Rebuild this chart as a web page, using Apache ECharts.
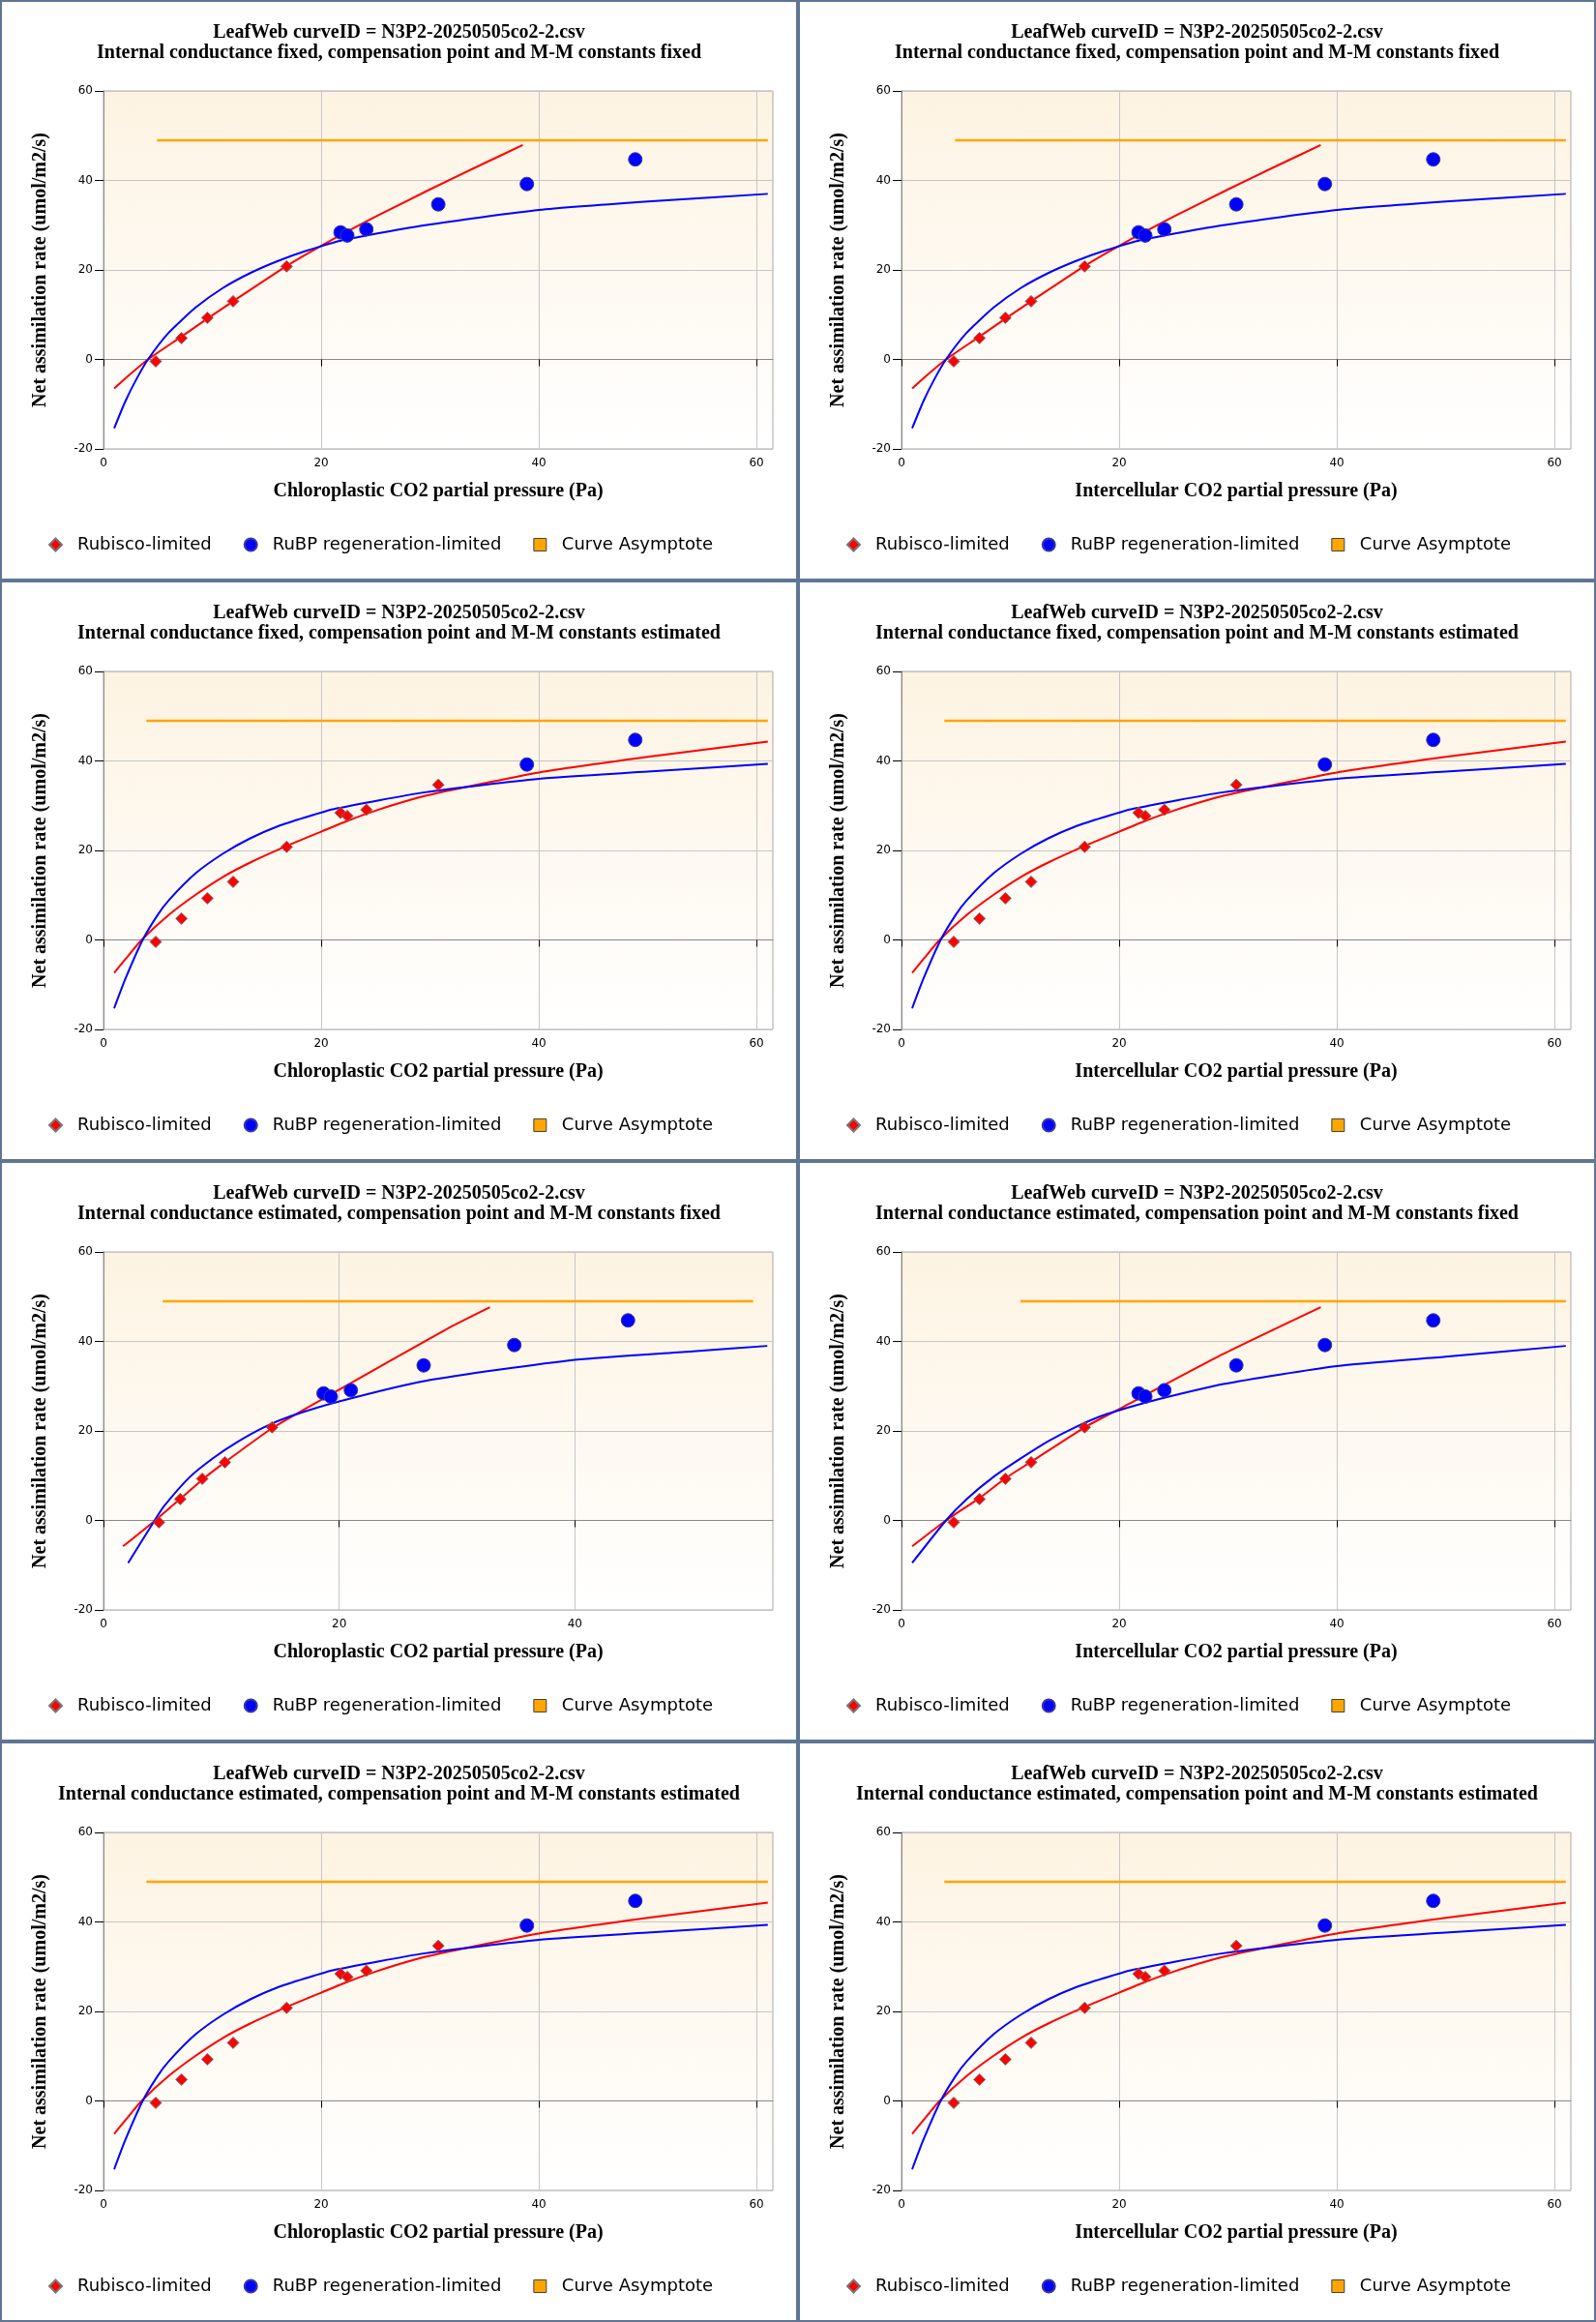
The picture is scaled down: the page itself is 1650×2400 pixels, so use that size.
<!DOCTYPE html>
<html>
<head>
<meta charset="utf-8">
<title>LeafWeb A/Ci fits</title>
<script src="https://cdn.jsdelivr.net/npm/echarts@6/dist/echarts.min.js"></script>
<style>
  html, body { margin: 0; padding: 0; background: #fff; }
  #page { position: relative; width: 1650px; height: 2400px; }
  .panel { position: absolute; width: 825px; height: 600px; }
  .panel .chart { position: absolute; left: 0; top: 0; width: 825px; height: 600px; }
  .panel .frame { position: absolute; left: 0; top: 0; right: 0; bottom: 0;
    border: 2px solid #5f7594; pointer-events: none; }
</style>
</head>
<body>
<div id="page"></div>
<script>
  // ---- data ----
  const curveId = 'LeafWeb curveID = N3P2-20250505co2-2.csv'
  const subtitles = [
    'Internal conductance fixed, compensation point and M-M constants fixed',
    'Internal conductance fixed, compensation point and M-M constants estimated',
    'Internal conductance estimated, compensation point and M-M constants fixed',
    'Internal conductance estimated, compensation point and M-M constants estimated'
  ]
  const xNames = ['Chloroplastic CO2 partial pressure (Pa)', 'Intercellular CO2 partial pressure (Pa)']
  const yName = 'Net assimilation rate (umol/m2/s)'
  const legendNames = ['Rubisco-limited', 'RuBP regeneration-limited', 'Curve Asymptote']
  const xTicks = [0, 20, 40, 60]

  // observed points
  const aObs = [-0.43, 4.77, 9.31, 13.0, 20.8, 28.4, 27.7, 29.1, 34.66, 39.2, 44.7]
  const ciObs = [4.8, 7.17, 9.54, 11.91, 16.83, 21.78, 22.4, 24.15, 30.76, 38.9, 48.86]
  const ccObsGmEst = [4.70, 6.51, 8.38, 10.30, 14.31, 18.68, 19.29, 20.99, 27.17, 34.86, 44.51]

  // fitted curves [x, A]
  const rubiscoFitA = [[0.98, -6.5], [2.5, -3.2], [4.09, 0], [7.17, 5.1], [9.54, 9.1], [11.91, 13.0],
    [16.83, 20.9], [20, 25.4], [25, 31.9], [30, 38.0], [34, 42.7], [38.52, 47.9]]
  const rubpFitA = [[0.98, -15.4], [2.0, -9.4], [3.05, -4.3], [4.09, 0], [5.93, 5.8], [8.47, 11.6],
    [10.99, 16.0], [13.48, 19.3], [16.03, 22.0], [18.55, 24.2], [22.07, 26.7], [29.57, 30.0],
    [40, 33.4], [50, 35.3], [61.04, 37.0]]

  const rubiscoFitB = [[0.98, -7.4], [2.01, -4.3], [3.5, 0], [6.01, 5.6], [8.47, 10.1], [10.99, 14.1],
    [13.48, 17.3], [16.83, 21.0], [20, 24.2], [22.4, 26.6], [25, 28.9], [29.57, 32.2], [40, 37.4],
    [50, 40.9], [61.04, 44.3]]
  const rubpFitB = [[0.98, -15.3], [2.01, -8.7], [3.6, 0], [4.98, 5.6], [6.01, 8.9], [8.47, 14.9],
    [10.99, 19.3], [13.48, 22.7], [16.03, 25.4], [18.55, 27.4], [21.07, 29.2], [29.57, 33.0],
    [40, 36.0], [50, 37.6], [61.04, 39.35]]

  const rubiscoFitEFc = [[1.65, -5.8], [4.29, -0.2], [6.51, 4.8], [8.38, 9.1], [10.3, 13.0],
    [14.31, 20.6], [20, 29.2], [29.07, 42.7], [32.79, 47.65]]
  const rubpFitEFc = [[2.09, -9.5], [4.29, -0.2], [5.16, 3.25], [7.28, 9.6], [9.29, 13.9], [11.4, 17.6],
    [13.68, 20.9], [15.88, 23.3], [20, 26.6], [27.33, 31.2], [40, 35.9], [50, 37.8], [56.33, 39.0]]

  const rubiscoFitEFi = [[0.98, -5.8], [4.09, 0], [7.17, 5.0], [9.54, 9.4], [11.91, 13.1], [16.83, 20.8],
    [20, 24.9], [29.57, 37.2], [38.52, 47.65]]
  const rubpFitEFi = [[0.98, -9.5], [4.09, 0], [6.01, 4.8], [8.47, 9.75], [10.99, 13.9], [13.48, 17.7],
    [16.03, 20.9], [18.55, 23.5], [21.07, 25.4], [23.6, 27.1], [29.57, 30.5], [40, 34.5],
    [50, 36.6], [61.04, 39.0]]

  const asymptoteA = 48.95
  const asymRangeA = [4.92, 61.04]
  const asymRangeB = [3.94, 61.04]
  const asymRangeEFc = [5.03, 55.13]
  const asymRangeEFi = [10.93, 61.04]

  // panel table: row-major, left column chloroplastic, right column intercellular
  const panels = [
    { sub: 0, xName: 0, xs: ciObs, nRub: 5, xMax: 61.5, rub: rubiscoFitA, rg: rubpFitA, asym: asymRangeA },
    { sub: 0, xName: 1, xs: ciObs, nRub: 5, xMax: 61.5, rub: rubiscoFitA, rg: rubpFitA, asym: asymRangeA },
    { sub: 1, xName: 0, xs: ciObs, nRub: 9, xMax: 61.5, rub: rubiscoFitB, rg: rubpFitB, asym: asymRangeB },
    { sub: 1, xName: 1, xs: ciObs, nRub: 9, xMax: 61.5, rub: rubiscoFitB, rg: rubpFitB, asym: asymRangeB },
    { sub: 2, xName: 0, xs: ccObsGmEst, nRub: 5, xMax: 56.8, rub: rubiscoFitEFc, rg: rubpFitEFc, asym: asymRangeEFc },
    { sub: 2, xName: 1, xs: ciObs, nRub: 5, xMax: 61.5, rub: rubiscoFitEFi, rg: rubpFitEFi, asym: asymRangeEFi },
    { sub: 3, xName: 0, xs: ciObs, nRub: 9, xMax: 61.5, rub: rubiscoFitB, rg: rubpFitB, asym: asymRangeB },
    { sub: 3, xName: 1, xs: ciObs, nRub: 9, xMax: 61.5, rub: rubiscoFitB, rg: rubpFitB, asym: asymRangeB }
  ]

  const serif = 'Liberation Serif, Times New Roman, serif'
  const sans = 'DejaVu Sans, Verdana, sans-serif'

  this.buildOption = (p) => {
    let pts = p.xs.map((x, i) => [x, aObs[i]])
    let titleFont = { fontFamily: serif, fontWeight: 'bold', fontSize: 20, color: '#000' }
    return {
      animation: false,
      title: {
        text: curveId,
        subtext: subtitles[p.sub],
        left: 'center',
        top: 19,
        itemGap: 1,
        textStyle: titleFont,
        subtextStyle: titleFont
      },
      legend: {
        top: 549,
        left: 45,
        itemGap: 33,
        itemWidth: 13,
        itemHeight: 13,
        selectedMode: false,
        textStyle: { fontFamily: sans, fontSize: 18, color: '#000', padding: [0, 0, 0, 11] },
        data: [
          { name: legendNames[0], icon: 'diamond' },
          { name: legendNames[1], icon: 'circle' },
          { name: legendNames[2], icon: 'rect', itemStyle: { color: '#ffa500', borderColor: '#444', borderWidth: 1 } }
        ]
      },
      grid: {
        left: 107, right: 26, top: 94, bottom: 136,
        show: true,
        borderColor: '#a8a8a8',
        borderWidth: 1,
        backgroundColor: new echarts.graphic.LinearGradient(0, 0, 0, 1, [
          { offset: 0, color: '#fdf3e2' },
          { offset: 1, color: '#ffffff' }
        ])
      },
      xAxis: {
        type: 'value', min: 0, max: p.xMax, interval: 20,
        name: xNames[p.xName], nameLocation: 'middle', nameGap: 34,
        nameTextStyle: titleFont,
        axisLine: { lineStyle: { color: '#8a8a8a' } },
        axisTick: { length: 7, lineStyle: { color: '#000' }, customValues: xTicks },
        axisLabel: { color: '#000', fontFamily: sans, fontSize: 12, margin: 9, customValues: xTicks },
        splitLine: { show: true, lineStyle: { color: '#c6c6c6' } }
      },
      yAxis: {
        type: 'value', min: -20, max: 60, interval: 20,
        name: yName, nameLocation: 'middle', nameGap: 55,
        nameTextStyle: titleFont,
        axisLine: { show: true, lineStyle: { color: '#8a8a8a' } },
        axisTick: { show: true, length: 9, lineStyle: { color: '#000' } },
        axisLabel: { color: '#000', fontFamily: sans, fontSize: 12, margin: 11 },
        splitLine: { show: true, lineStyle: { color: '#c6c6c6' } }
      },
      series: [
        { name: 'rubisco fit', type: 'line', data: p.rub, showSymbol: false, smooth: 0.2,
          lineStyle: { color: '#ff0000', width: 2 }, silent: true, z: 2 },
        { name: 'rubp fit', type: 'line', data: p.rg, showSymbol: false, smooth: 0.2,
          lineStyle: { color: '#0000ff', width: 2 }, silent: true, z: 2 },
        { name: legendNames[2], type: 'line', data: [[p.asym[0], asymptoteA], [p.asym[1], asymptoteA]],
          showSymbol: false, lineStyle: { color: '#ffa500', width: 2.5 }, itemStyle: { color: '#ffa500' },
          silent: true, z: 2 },
        { name: legendNames[0], type: 'scatter', data: pts.slice(0, p.nRub), symbol: 'diamond', symbolSize: 12,
          itemStyle: { color: '#ff0000', borderColor: '#777', borderWidth: 1, opacity: 1 }, z: 3 },
        { name: legendNames[1], type: 'scatter', data: pts.slice(p.nRub), symbol: 'circle', symbolSize: 14,
          itemStyle: { color: '#0000ff', borderColor: '#3b3b9c', borderWidth: 1, opacity: 1 }, z: 3 }
      ]
    }
  }

  let page = document.getElementById('page')
  panels.forEach((p, i) => {
    let box = document.createElement('div')
    box.className = 'panel'
    box.style.left = (i % 2) * 825 + 'px'
    box.style.top = Math.floor(i / 2) * 600 + 'px'
    box.innerHTML = '<div class="chart"></div><div class="frame"></div>'
    page.appendChild(box)
    let chart = echarts.init(box.querySelector('.chart'))
    chart.setOption(this.buildOption(p))
  })
</script>
</body>
</html>
